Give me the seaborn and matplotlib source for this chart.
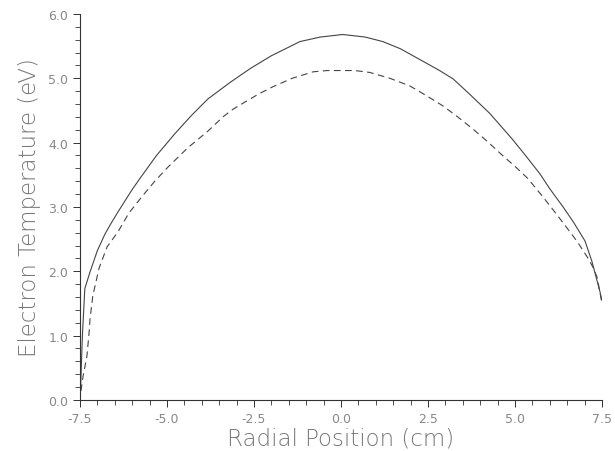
import numpy as np
import pandas as pd
import matplotlib
matplotlib.use("Agg")
import matplotlib.pyplot as plt
from matplotlib.ticker import MultipleLocator, FormatStrFormatter
import seaborn as sns

# radial profiles
solid_r = [-7.48, -7.43, -7.36, -7.21, -7.0, -6.78, -6.6, -6.41, -6.0, -5.78, -5.3,
           -4.77, -4.3, -3.82, -3.2, -2.61, -2.0, -1.18, -0.6, 0.05, 0.7, 1.2, 1.70,
           2.3, 2.8, 3.22, 3.7, 4.28, 4.91, 5.3, 5.72, 6.0, 6.38, 6.67, 7.01, 7.21,
           7.44, 7.49]
solid_te = [0.2, 1.0, 1.73, 1.99, 2.32, 2.58, 2.75, 2.92, 3.27, 3.44, 3.80,
            4.14, 4.42, 4.68, 4.93, 5.15, 5.35, 5.57, 5.64, 5.68, 5.64, 5.57, 5.46,
            5.28, 5.13, 4.99, 4.75, 4.45, 4.06, 3.80, 3.51, 3.28, 3.0, 2.77, 2.47, 2.15,
            1.68, 1.55]

dashed_r = [-7.47, -7.41, -7.30, -7.24, -7.21, -7.13, -6.95, -6.72, -6.41, -6.1, -5.72,
            -5.35, -4.97, -4.4, -3.82, -3.39, -3.1, -2.76, -2.35, -1.95, -1.4, -0.80,
            -0.4, 0.0, 0.4, 0.83, 1.4, 1.98, 2.45, 2.93, 3.35, 3.79, 4.2, 4.66, 5.0,
            5.37, 5.78, 6.1, 6.44, 6.8, 7.1, 7.25, 7.36, 7.48]
dashed_te = [0.14, 0.37, 0.68, 1.03, 1.26, 1.62, 2.05, 2.38, 2.61, 2.90, 3.16,
             3.40, 3.62, 3.92, 4.18, 4.40, 4.52, 4.63, 4.76, 4.87, 5.00, 5.10,
             5.12, 5.12, 5.12, 5.09, 5.00, 4.88, 4.73, 4.57, 4.40, 4.21, 4.02, 3.79, 3.63,
             3.44, 3.17, 2.95, 2.71, 2.45, 2.2, 2.05, 1.9, 1.55]

solid = pd.DataFrame({"r": solid_r, "te": solid_te})
dashed = pd.DataFrame({"r": dashed_r, "te": dashed_te})

sns.set_style("ticks")
plt.rcParams['font.family'] = ['DejaVu Sans']

fig = plt.figure(figsize=(6.15, 4.52), dpi=100)
ax = fig.add_axes([0.130, 0.113, 0.849, 0.854])

sns.lineplot(data=solid, x="r", y="te", ax=ax, sort=False, estimator=None,
             color="#444444", linewidth=0.8)
sns.lineplot(data=dashed, x="r", y="te", ax=ax, sort=False, estimator=None,
             color="#444444", linewidth=0.8, linestyle=(0, (6, 4)))

ax.set_xlim(-7.5, 7.5)
ax.set_ylim(0, 6)
ax.xaxis.set_major_locator(MultipleLocator(2.5))
ax.xaxis.set_minor_locator(MultipleLocator(0.5))
ax.yaxis.set_major_locator(MultipleLocator(1.0))
ax.yaxis.set_minor_locator(MultipleLocator(0.2))
ax.xaxis.set_major_formatter(FormatStrFormatter("%.1f"))
ax.yaxis.set_major_formatter(FormatStrFormatter("%.1f"))

ax.tick_params(which="major", length=5, width=0.7, color="#333333",
               labelsize=9, labelcolor="#888888")
ax.tick_params(which="minor", length=3.5, width=0.6, color="#333333")

ax.set_xlabel("Radial Position (cm)", fontsize=16.5, color="#777777",
              fontweight="light", labelpad=1)
ax.set_ylabel("Electron Temperature (eV)", fontsize=16.5, color="#777777",
              fontweight="light", labelpad=5)

sns.despine(ax=ax)
for s in ["left", "bottom"]:
    ax.spines[s].set_linewidth(0.8)
    ax.spines[s].set_color("#333333")

fig.savefig("out.png", dpi=100)
